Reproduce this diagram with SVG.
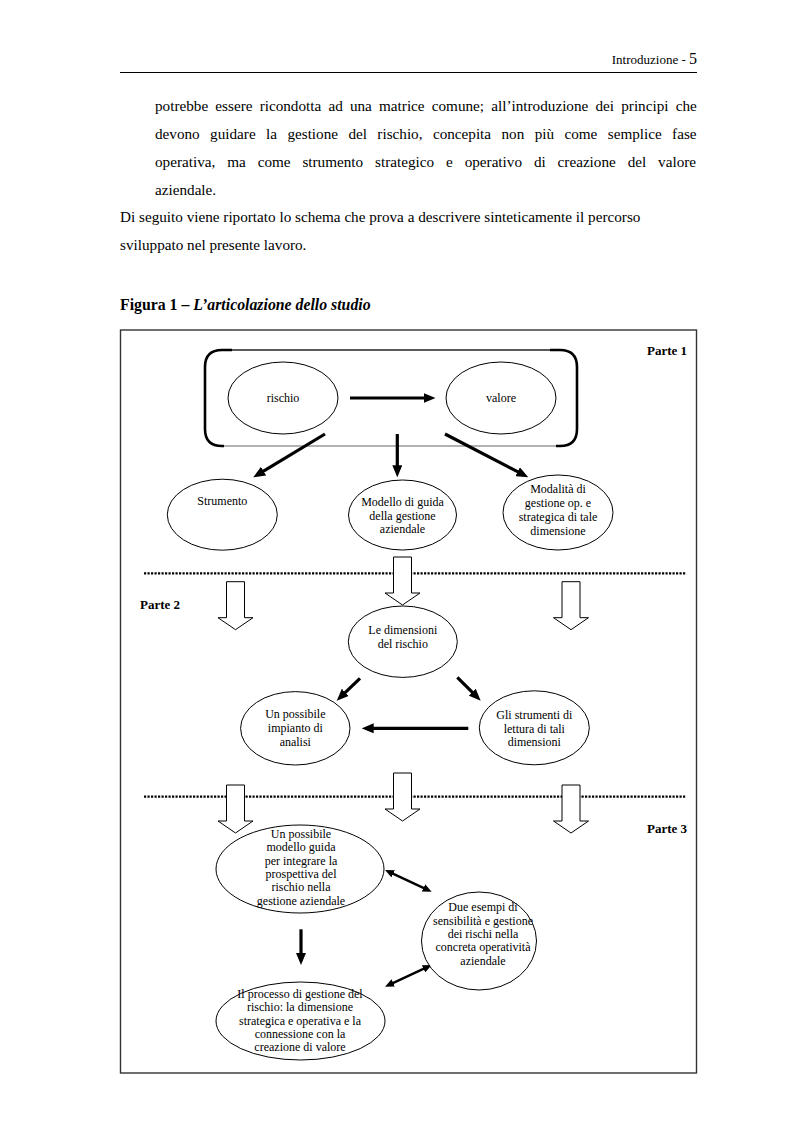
<svg xmlns="http://www.w3.org/2000/svg" width="793" height="1123" viewBox="0 0 793 1123">
<style>
  .t{font-family:"Liberation Serif","Times New Roman",serif;fill:#000}
  .body{font-size:15.2px}
  .lbl{font-size:12px;text-anchor:middle}
  .part{font-size:13px;font-weight:bold}
  .node{fill:#fff;stroke:#000;stroke-width:1}
  .arr{stroke:#000;stroke-width:3.2;fill:none;marker-end:url(#ah)}
  .dbl{stroke:#000;stroke-width:2.4;fill:none;marker-end:url(#ahs);marker-start:url(#ahs)}
  .blk{fill:#fff;stroke:#000;stroke-width:1}
  .dot{stroke:#000;stroke-width:2.2;stroke-dasharray:2.2 1.3;fill:none}
</style>
<defs>
  <marker id="ah" viewBox="0 0 12 10" markerWidth="12" markerHeight="10" refX="1" refY="5" orient="auto" markerUnits="userSpaceOnUse">
    <path d="M0,0 L12,5 L0,10 Z" fill="#000"/>
  </marker>
  <marker id="ahs" viewBox="0 0 9 8" markerWidth="9" markerHeight="8" refX="1" refY="4" orient="auto-start-reverse" markerUnits="userSpaceOnUse">
    <path d="M0,0 L9,4 L0,8 Z" fill="#000"/>
  </marker>
</defs>
<rect width="793" height="1123" fill="#fff"/>

<g id="page-header">
  <text class="t" x="697" y="64" text-anchor="end"><tspan font-size="13">Introduzione - </tspan><tspan font-size="16">5</tspan></text>
  <line x1="120" y1="72.5" x2="697" y2="72.5" stroke="#000" stroke-width="1"/>
</g>

<g id="body-text" class="t body">
  <text x="155" y="111" word-spacing="3.4">potrebbe essere ricondotta ad una matrice comune; all’introduzione dei principi che</text>
  <text x="155" y="139" word-spacing="6.6">devono guidare la gestione del rischio, concepita non più come semplice fase</text>
  <text x="155" y="167" word-spacing="8.1">operativa, ma come strumento strategico e operativo di creazione del valore</text>
  <text x="155" y="195">aziendale.</text>
  <text x="120" y="222">Di seguito viene riportato lo schema che prova a descrivere sinteticamente il percorso</text>
  <text x="120" y="250">sviluppato nel presente lavoro.</text>
  <text x="120" y="310" font-size="15.8" font-weight="bold">Figura 1 – <tspan font-style="italic">L’articolazione dello studio</tspan></text>
</g>

<g id="frame">
  <rect x="120.5" y="330" width="576" height="743" fill="none" stroke="#333" stroke-width="1.4"/>
</g>

<g id="separators">
  <line class="dot" x1="144" y1="573.3" x2="686" y2="573.3"/>
  <line class="dot" x1="144" y1="796.7" x2="686" y2="796.7"/>
</g>

<g id="part-labels" class="t part">
  <text id="parte1" x="687" y="355" text-anchor="end">Parte 1</text>
  <text id="parte2" x="140" y="609">Parte 2</text>
  <text id="parte3" x="687" y="833" text-anchor="end">Parte 3</text>
</g>

<g id="bracket">
  <path d="M222,350 L560,350" stroke="#222" stroke-width="1.3" fill="none"/>
  <path d="M222,446 L560,446" stroke="#999" stroke-width="1.3" fill="none"/>
  <path d="M232,350 L222,350 Q205,350 205,367 L205,429 Q205,446 222,446 L224,446" stroke="#000" stroke-width="2.6" fill="none"/>
  <path d="M550,350 L560,350 Q577,350 577,367 L577,429 Q577,446 560,446 L556,446" stroke="#000" stroke-width="2.6" fill="none"/>
</g>

<g id="block-arrows">
  <path class="blk" d="M226.5,581.7 L244.5,581.7 L244.5,617.7 L253,617.7 L235.5,629.7 L218,617.7 L226.5,617.7 Z"/>
  <path class="blk" d="M393.5,557 L411.5,557 L411.5,593 L420,593 L402.5,605 L385,593 L393.5,593 Z"/>
  <path class="blk" d="M562,581.7 L580,581.7 L580,617.7 L588.5,617.7 L571,629.7 L553.5,617.7 L562,617.7 Z"/>
  <path class="blk" d="M226.5,785 L244.5,785 L244.5,821 L253,821 L235.5,833 L218,821 L226.5,821 Z"/>
  <path class="blk" d="M393.5,773 L411.5,773 L411.5,809 L420,809 L402.5,821 L385,809 L393.5,809 Z"/>
  <path class="blk" d="M562,785 L580,785 L580,821 L588.5,821 L571,833 L553.5,821 L562,821 Z"/>
</g>

<g id="connectors">
  <line class="arr" x1="350" y1="398" x2="424.5" y2="398"/>
  <line class="arr" x1="325" y1="434" x2="262.7" y2="471.6"/>
  <line class="arr" x1="397.3" y1="434" x2="397.3" y2="466.3"/>
  <line class="arr" x1="445" y1="434" x2="518.5" y2="472.2"/>
  <line class="arr" x1="360" y1="678.3" x2="344.6" y2="693.1"/>
  <line class="arr" x1="457.3" y1="677.3" x2="472.9" y2="692.9"/>
  <line class="arr" x1="468.3" y1="728.3" x2="372.7" y2="728.3"/>
  <line class="arr" x1="301" y1="929.3" x2="301" y2="954"/>
  <line class="dbl" x1="392.3" y1="873.4" x2="424.4" y2="888.3"/>
  <line class="dbl" x1="392.3" y1="983.3" x2="424.4" y2="968.4"/>
</g>

<g id="n-rischio">
  <ellipse class="node" cx="283" cy="398" rx="55" ry="36"/>
  <text class="t lbl" x="283" y="402">rischio</text>
</g>
<g id="n-valore">
  <ellipse class="node" cx="501" cy="398" rx="55" ry="36"/>
  <text class="t lbl" x="501" y="402">valore</text>
</g>
<g id="n-strumento">
  <ellipse class="node" cx="222.3" cy="514.7" rx="55" ry="35.5"/>
  <text class="t lbl" x="222.3" y="505">Strumento</text>
</g>
<g id="n-modello">
  <ellipse class="node" cx="402.5" cy="515" rx="54" ry="35"/>
  <text class="t lbl" x="402.5" y="505.5">Modello di guida</text>
  <text class="t lbl" x="402.5" y="519.5">della gestione</text>
  <text class="t lbl" x="402.5" y="533">aziendale</text>
</g>
<g id="n-modalita">
  <ellipse class="node" cx="558" cy="512.5" rx="55" ry="37.5"/>
  <text class="t lbl" x="558" y="493">Modalità di</text>
  <text class="t lbl" x="558" y="507">gestione op. e</text>
  <text class="t lbl" x="558" y="521">strategica di tale</text>
  <text class="t lbl" x="558" y="535">dimensione</text>
</g>
<g id="n-dimensioni">
  <ellipse class="node" cx="402.8" cy="641.7" rx="54.5" ry="35.7"/>
  <text class="t lbl" x="402.8" y="633.5">Le dimensioni</text>
  <text class="t lbl" x="402.8" y="647.5">del rischio</text>
</g>
<g id="n-impianto">
  <ellipse class="node" cx="295.3" cy="728.3" rx="54.7" ry="36.7"/>
  <text class="t lbl" x="295.3" y="717.5">Un possibile</text>
  <text class="t lbl" x="295.3" y="731.5">impianto di</text>
  <text class="t lbl" x="295.3" y="745.5">analisi</text>
</g>
<g id="n-strumenti-lettura">
  <ellipse class="node" cx="534.3" cy="727.8" rx="55" ry="37"/>
  <text class="t lbl" x="534.3" y="718.5">Gli strumenti di</text>
  <text class="t lbl" x="534.3" y="732.5">lettura di tali</text>
  <text class="t lbl" x="534.3" y="746">dimensioni</text>
</g>
<g id="n-modello-guida">
  <ellipse class="node" cx="300" cy="869" rx="84" ry="44"/>
  <text class="t lbl" x="301" y="838">Un possibile</text>
  <text class="t lbl" x="301" y="851.3">modello guida</text>
  <text class="t lbl" x="301" y="864.7">per integrare la</text>
  <text class="t lbl" x="301" y="878">prospettiva del</text>
  <text class="t lbl" x="301" y="891.3">rischio nella</text>
  <text class="t lbl" x="301" y="904.7">gestione aziendale</text>
</g>
<g id="n-esempi">
  <ellipse class="node" cx="479" cy="941" rx="57.5" ry="49"/>
  <text class="t lbl" x="483" y="911.3">Due esempi di</text>
  <text class="t lbl" x="483" y="924.7">sensibilità e gestione</text>
  <text class="t lbl" x="483" y="938">dei rischi nella</text>
  <text class="t lbl" x="483" y="951.3">concreta operatività</text>
  <text class="t lbl" x="483" y="964.7">aziendale</text>
</g>
<g id="n-processo">
  <ellipse class="node" cx="300.5" cy="1021" rx="84.5" ry="39"/>
  <text class="t lbl" x="300" y="998">Il processo di gestione del</text>
  <text class="t lbl" x="300" y="1011.3">rischio: la dimensione</text>
  <text class="t lbl" x="300" y="1024.7">strategica e operativa e la</text>
  <text class="t lbl" x="300" y="1038">connessione con la</text>
  <text class="t lbl" x="300" y="1051.3">creazione di valore</text>
</g>
</svg>
